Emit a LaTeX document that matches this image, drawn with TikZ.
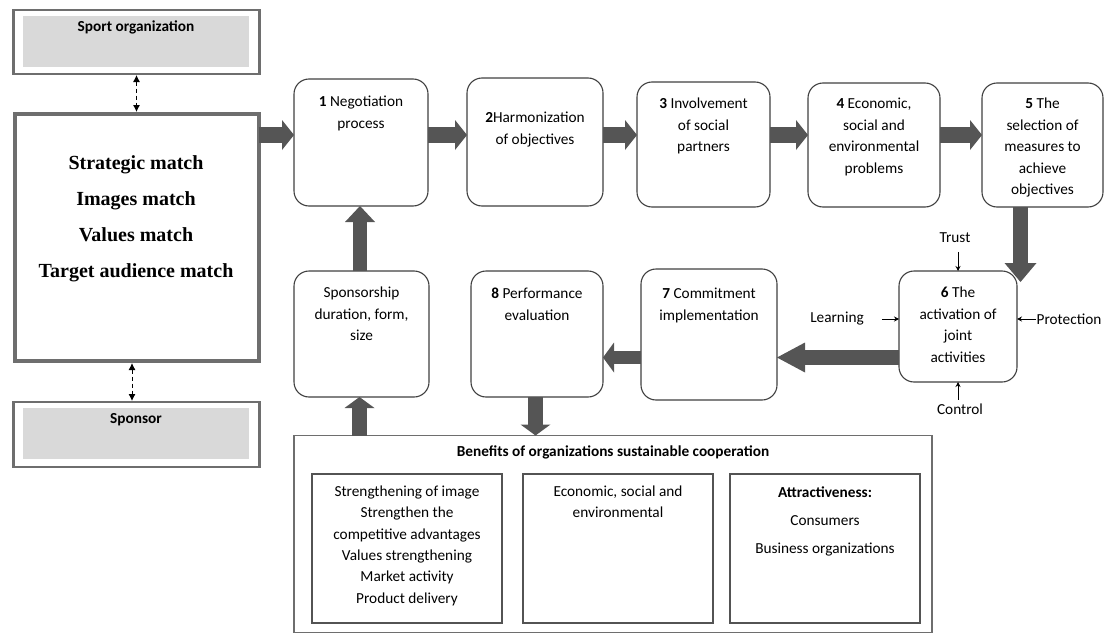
\documentclass[tikz,border=0pt]{standalone}
\usepackage{fontspec}
\setmainfont{Carlito}
\newfontfamily\tnr{Liberation Serif}
\usetikzlibrary{arrows.meta}
\definecolor{arrowgray}{HTML}{555555}
\definecolor{framegray}{HTML}{6E6E6E}
\definecolor{fillgray}{HTML}{D9D9D9}
\definecolor{boxline}{HTML}{404040}
\begin{document}
\begin{tikzpicture}[x=1pt,y=-1pt,
  every node/.style={inner sep=0pt, outer sep=0pt},
  tx/.style={font=\fontsize{15.3}{21.5}\selectfont, align=center, anchor=north, yshift=-2pt},
  lbl/.style={font=\fontsize{15.3}{18}\selectfont, yshift=-1pt},
  rbox/.style={draw=boxline, line width=1.1pt, rounded corners=15pt, fill=white},
  ibox/.style={draw=boxline!90, line width=1.5pt},
  blk/.style={draw=arrowgray, line width=16pt, -{Triangle[length=12pt,width=30pt,line width=0pt]}},
  dash2/.style={dash pattern=on 4pt off 3pt, line width=0.9pt, {Latex[length=7pt,width=7pt]}-{Latex[length=7pt,width=7pt]}},
  sarr/.style={line width=0.7pt, -{Stealth[length=5pt,width=5pt]}}
]
\useasboundingbox (0,0) rectangle (1105,634);

% left column
\node[draw=framegray, line width=2.5pt, minimum width=246pt, minimum height=64pt] (sport) at (136.5,42) {};
\node[fill=fillgray, minimum width=226pt, minimum height=51pt] (sportin) at (136,41.5) {};
\node[tx, font=\fontsize{15.3}{18}\selectfont\bfseries] (sportt) at (136,19) {Sport organization};

\node[draw=framegray, line width=4pt, minimum width=244pt, minimum height=247pt] (big) at (136.5,237.5) {};
\node[anchor=north, align=center, font=\tnr\bfseries\fontsize{20}{36}\selectfont] (bigt) at (136,156)
  {Strategic match\\Images match\\Values match\\Target audience match};

\node[draw=framegray, line width=2.5pt, minimum width=246pt, minimum height=65pt] (spon) at (136.5,434.5) {};
\node[fill=fillgray, minimum width=226pt, minimum height=51pt] (sponin) at (136,433.5) {};
\node[tx, font=\fontsize{15.3}{18}\selectfont\bfseries] (spont) at (136,411) {Sponsor};

\draw[dash2, shorten <=1pt, shorten >=2pt] (sport.south) -- (big.north);
\draw[dash2, shorten <=2pt, shorten >=1pt] ([xshift=-4.5pt]big.south) -- ([xshift=-4.5pt]spon.north);

% top row
\node[rbox, minimum width=134pt, minimum height=127pt] (b1) at (361,142.5) {};
\node[rbox, minimum width=136pt, minimum height=128pt] (b2) at (535,142) {};
\node[rbox, minimum width=133pt, minimum height=125pt] (b3) at (703.5,144.5) {};
\node[rbox, minimum width=132pt, minimum height=124pt] (b4) at (874,145) {};
\node[rbox, minimum width=121pt, minimum height=124pt] (b5) at (1042.5,145) {};

\node[tx] (t1) at ([yshift=-15pt]b1.north) {\textbf{1} Negotiation\\process};
\node[tx] (t2) at ([yshift=-32pt]b2.north) {\textbf{2}Harmonization\\of objectives};
\node[tx] (t3) at ([yshift=-14pt]b3.north) {\textbf{3} Involvement\\of social\\partners};
\node[tx] (t4) at ([yshift=-13pt]b4.north) {\textbf{4} Economic,\\social and\\environmental\\problems};
\node[tx] (t5) at ([yshift=-13pt]b5.north) {\textbf{5} The\\selection of\\measures to\\achieve\\objectives};

% second row
\node[rbox, minimum width=118pt, minimum height=111pt] (b6) at (958,326.5) {};
\node[rbox, minimum width=136pt, minimum height=131pt] (b7) at (709,334.5) {};
\node[rbox, minimum width=132pt, minimum height=126pt] (b8) at (537,334) {};
\node[rbox, minimum width=135pt, minimum height=126pt] (bS) at (361.5,334) {};

\node[tx] (t6) at ([yshift=-14pt]b6.north) {\textbf{6} The\\activation of\\joint\\activities};
\node[tx] (t7) at ([yshift=-17pt]b7.north) {\textbf{7} Commitment\\implementation};
\node[tx] (t8) at ([yshift=-15pt]b8.north) {\textbf{8} Performance\\evaluation};
\node[tx] (tS) at ([yshift=-14pt]bS.north) {Sponsorship\\duration, form,\\size};

% influences on 6
\node[lbl] (trust) at (955,237) {Trust};
\node[lbl] (learn) at (837,318) {Learning};
\node[lbl] (prot) at (1069,318) {Protection};
\node[lbl] (ctrl) at (960,408) {Control};
\draw[sarr, shorten <=9pt] (trust.south -| b6.north) -- (b6.north);
\draw[sarr, shorten <=18pt] (learn.east) -- (learn.east -| b6.west);
\draw[sarr, shorten <=1pt] (prot.west) -- (prot.west -| b6.east);
\draw[sarr, shorten <=4pt] (ctrl.north -| b6.south) -- (b6.south);

% benefits
\node[draw=framegray, line width=1.5pt, minimum width=638pt, minimum height=197pt] (ben) at (613,534) {};
\node[tx, font=\fontsize{15.3}{18}\selectfont\bfseries] (bent) at (613,444) {Benefits of organizations sustainable cooperation};
\node[ibox, minimum width=190pt, minimum height=149pt] (ba) at (407,548.5) {};
\node[ibox, minimum width=190pt, minimum height=149pt] (bb) at (618,548.5) {};
\node[ibox, minimum width=190pt, minimum height=149pt] (bc) at (825,548.5) {};
\node[tx, font=\fontsize{15.3}{21.3}\selectfont] (bat) at (407,484)
  {Strengthening of image\\Strengthen the\\competitive advantages\\Values strengthening\\Market activity\\Product delivery};
\node[tx, font=\fontsize{15.3}{20.5}\selectfont] (bbt) at (618,484) {Economic, social and\\environmental};
\node[tx, font=\fontsize{15.3}{28}\selectfont] (bct) at (825,485) {\textbf{Attractiveness:}\\Consumers\\Business organizations};

% block arrows
\coordinate (rowA) at (0,135);
\coordinate (rowB) at (0,357.5);
\coordinate (c56) at (1020.5,282);
\draw[blk] (big.east |- rowA) -- (b1.west |- rowA);
\draw[blk] (b1.east |- rowA) -- (b2.west |- rowA);
\draw[blk] (b2.east |- rowA) -- (b3.west |- rowA);
\draw[blk] (b3.east |- rowA) -- (b4.west |- rowA);
\draw[blk] (b4.east |- rowA) -- (b5.west |- rowA);
\draw[blk, line width=15pt, -{Triangle[length=19pt,width=32pt,line width=0pt]}] (b5.south -| c56) -- (c56);
\draw[blk, line width=15pt, -{Triangle[length=28pt,width=30pt,line width=0pt]}] (b6.west |- rowB) -- (b7.east |- rowB);
\draw[blk, line width=13pt, -{Triangle[length=11pt,width=30pt,line width=0pt]}] (b7.west |- rowB) -- (b8.east |- rowB);
\draw[blk, line width=14pt, -{Triangle[length=16pt,width=30pt,line width=0pt]}] ([xshift=-1.5pt]bS.north) -- ([xshift=-1.5pt]bS.north |- b1.south);
\draw[blk, line width=15pt, -{Triangle[length=11pt,width=30pt,line width=0pt]}] ([xshift=-2pt]bS.south |- ben.north) -- ([xshift=-2pt]bS.south);
\draw[blk, line width=15pt, -{Triangle[length=11pt,width=30pt,line width=0pt]}] ([xshift=-1.5pt]b8.south) -- ([xshift=-1.5pt]b8.south |- ben.north);
\end{tikzpicture}
\end{document}
